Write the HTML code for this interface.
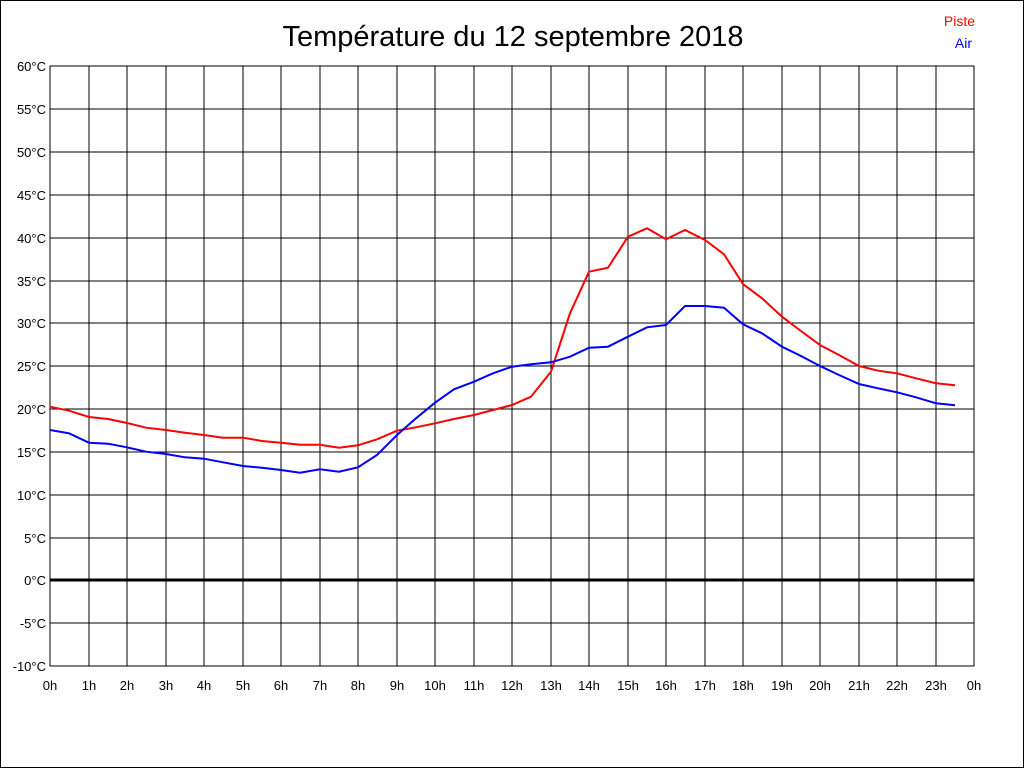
<!DOCTYPE html>
<html><head><meta charset="utf-8"><style>
html,body{margin:0;padding:0;background:#fff;}
svg{display:block;font-family:"Liberation Sans",Arial,sans-serif;}
</style></head><body>
<svg width="1024" height="768" viewBox="0 0 1024 768" xmlns="http://www.w3.org/2000/svg">
<rect x="0.5" y="0.5" width="1023" height="767" fill="#fff" stroke="#000"/>
<text x="513" y="46" font-size="29" text-anchor="middle">Température du 12 septembre 2018</text>
<text x="975" y="26" font-size="14" fill="#f00" text-anchor="end">Piste</text>
<text x="972" y="48" font-size="14" fill="#00f" text-anchor="end">Air</text>
<g stroke="#000" stroke-width="1" shape-rendering="crispEdges">
<rect x="50" y="66" width="924" height="600" fill="none"/>
<path d="M50 66H974M50 109H974M50 152H974M50 195H974M50 238H974M50 281H974M50 323H974M50 366H974M50 409H974M50 452H974M50 495H974M50 538H974M50 623H974"/>
<path d="M89 66V666M127 66V666M166 66V666M204 66V666M243 66V666M281 66V666M320 66V666M358 66V666M397 66V666M435 66V666M474 66V666M512 66V666M551 66V666M589 66V666M628 66V666M666 66V666M705 66V666M743 66V666M782 66V666M820 66V666M859 66V666M897 66V666M936 66V666"/>
<path d="M50 580H974" stroke-width="3"/>
</g>
<g font-size="13" text-anchor="end">
<text x="46" y="71">60°C</text><text x="46" y="114">55°C</text><text x="46" y="157">50°C</text><text x="46" y="200">45°C</text><text x="46" y="243">40°C</text><text x="46" y="286">35°C</text><text x="46" y="328">30°C</text><text x="46" y="371">25°C</text><text x="46" y="414">20°C</text><text x="46" y="457">15°C</text><text x="46" y="500">10°C</text><text x="46" y="543">5°C</text><text x="46" y="585">0°C</text><text x="46" y="628">-5°C</text><text x="46" y="671">-10°C</text>
</g>
<g font-size="13" text-anchor="middle">
<text x="50" y="690">0h</text><text x="89" y="690">1h</text><text x="127" y="690">2h</text><text x="166" y="690">3h</text><text x="204" y="690">4h</text><text x="243" y="690">5h</text><text x="281" y="690">6h</text><text x="320" y="690">7h</text><text x="358" y="690">8h</text><text x="397" y="690">9h</text><text x="435" y="690">10h</text><text x="474" y="690">11h</text><text x="512" y="690">12h</text><text x="551" y="690">13h</text><text x="589" y="690">14h</text><text x="628" y="690">15h</text><text x="666" y="690">16h</text><text x="705" y="690">17h</text><text x="743" y="690">18h</text><text x="782" y="690">19h</text><text x="820" y="690">20h</text><text x="859" y="690">21h</text><text x="897" y="690">22h</text><text x="936" y="690">23h</text><text x="974" y="690">0h</text>
</g>
<polyline fill="none" stroke="#f00" stroke-width="2" points="50,406.7 69,410.7 89,417 108,419 127,423 146,427.7 166,430 185,432.7 204,435 223,437.7 243,437.7 262,441 281,442.7 300,444.7 320,444.7 339,447.7 358,445.3 377,439.3 397,430.7 416,427.3 435,423.3 454,419 474,415 493,410 512,405 531,396.7 551,371.7 570,313.3 589,271.7 608,267.7 628,236.7 647,228.3 666,239.3 685,230 705,240 724,254.3 743,284 762,298.3 782,316.7 801,331 820,345 839,355 859,366 878,370.7 897,373.3 916,378.3 936,383.3 955,385.3"/>
<polyline fill="none" stroke="#00f" stroke-width="2" points="50,430 69,433.3 89,442.7 108,443.7 127,447.3 146,451.7 166,454 185,457.3 204,458.7 223,462.3 243,466 262,467.7 281,470 300,472.7 320,469.3 339,471.7 358,467.3 377,455 397,435 416,418.3 435,402.7 454,389.3 474,381.7 493,373.3 512,366.7 531,364.3 551,362.3 570,356.7 589,347.7 608,346.7 628,336.7 647,327.3 666,325 685,306 705,306 724,307.7 743,324.3 762,333.3 782,346.7 801,356 820,366 839,375 859,384 878,388.3 897,392.3 916,397.3 936,403.3 955,405.3"/>
</svg>
</body></html>
